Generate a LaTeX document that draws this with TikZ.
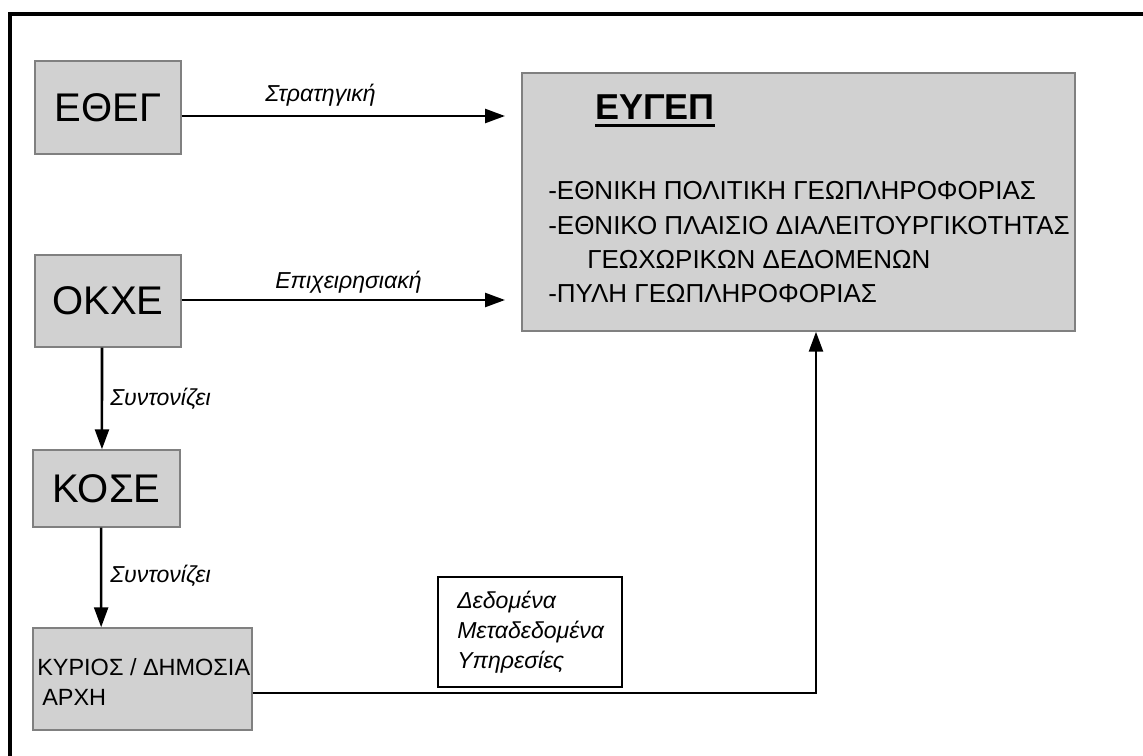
\documentclass[tikz,border=0pt]{standalone}
\usepackage{fontspec}
\setmainfont{Liberation Sans}
\usetikzlibrary{arrows.meta}
\tikzset{
  greybox/.style={draw=black!50, line width=1.1pt, fill=black!18, inner sep=0pt},
  bigtxt/.style={font=\fontsize{30pt}{36pt}\selectfont},
  listtxt/.style={anchor=base west, inner sep=0pt, font=\fontsize{19.5pt}{24pt}\selectfont},
  smalltxt/.style={anchor=base west, inner sep=0pt, font=\fontsize{17.6pt}{22pt}\selectfont},
  lbl/.style={anchor=base west, inner sep=0pt, font=\fontsize{17.3pt}{21pt}\selectfont\itshape},
  arr/.style={line width=1.9pt, -{Triangle[length=15pt, width=10.5pt]}},
  plain/.style={line width=1.9pt}
}
\begin{document}
\begin{tikzpicture}[x=0.75pt, y=-0.75pt]
\useasboundingbox (0,0) rectangle (1143,756);
\fill[white] (0,0) rectangle (1143,756);
% outer frame (only top and left visible)
\draw[line width=2.8pt] (10,756) -- (10,14) -- (1143,14);

% boxes
\node[greybox, bigtxt, minimum width=109.5pt, minimum height=69.75pt] (etheg) at (108,107.5) {ΕΘΕΓ};
\node[greybox, bigtxt, minimum width=109.5pt, minimum height=69pt] (okxe) at (108,301) {ΟΚΧΕ};
\node[greybox, bigtxt, minimum width=110.25pt, minimum height=57.75pt] (kose) at (106.5,488.5) {ΚΟΣΕ};
\node[greybox, minimum width=164.25pt, minimum height=76.5pt] (kyrios) at (142.5,679) {};
\node[greybox, minimum width=414.75pt, minimum height=193.5pt] (eygep) at (798.5,202) {};
\node[draw=black, line width=1pt, fill=white, minimum width=138pt, minimum height=82.5pt, inner sep=0pt] (data) at (530,632) {};

% EYGEP contents
\node[anchor=base west, inner sep=0pt, font=\fontsize{27pt}{32pt}\selectfont\bfseries] (title) at (595,120) {ΕΥΓΕΠ};
\draw[line width=2.2pt] ([yshift=-4pt]title.base west) -- ([yshift=-4pt]title.base east);
\node[listtxt] (l1) at (548,200) {-ΕΘΝΙΚΗ ΠΟΛΙΤΙΚΗ ΓΕΩΠΛΗΡΟΦΟΡΙΑΣ};
\node[listtxt] (l2) at (548,234) {-ΕΘΝΙΚΟ ΠΛΑΙΣΙΟ ΔΙΑΛΕΙΤΟΥΡΓΙΚΟΤΗΤΑΣ};
\node[listtxt] (l3) at (587,268) {ΓΕΩΧΩΡΙΚΩΝ ΔΕΔΟΜΕΝΩΝ};
\node[listtxt] (l4) at (548,302) {-ΠΥΛΗ ΓΕΩΠΛΗΡΟΦΟΡΙΑΣ};

% bottom box contents
\node[smalltxt] (k1) at (37,675) {ΚΥΡΙΟΣ / ΔΗΜΟΣΙΑ};
\node[smalltxt] (k2) at (42,705) {ΑΡΧΗ};

% data box contents
\node[lbl] (d1) at (457,608) {Δεδομένα};
\node[lbl] (d2) at (457,638) {Μεταδεδομένα};
\node[lbl] (d3) at (457,668) {Υπηρεσίες};

% connectors
\coordinate (t1) at (505,116);
\coordinate (t2) at (505,300);
\coordinate (corner) at (816,693);
\draw[arr] (etheg.east |- t1) -- (t1);
\draw[arr] (okxe.east |- t2) -- (t2);
\draw[arr] ([xshift=-4.5pt]okxe.south) -- ([xshift=-3.4pt]kose.north);
\draw[arr] ([xshift=-4.1pt]kose.south) -- ([xshift=-31pt]kyrios.north);
\draw[arr] (kyrios.east |- corner) -- (corner) -- (eygep.south -| corner);

% labels
\node[lbl] (s1) at (265,102) {Στρατηγική};
\node[lbl] (s2) at (275,288) {Επιχειρησιακή};
\node[lbl] (s3) at (110,405) {Συντονίζει};
\node[lbl] (s4) at (110,582) {Συντονίζει};
\end{tikzpicture}
\end{document}
